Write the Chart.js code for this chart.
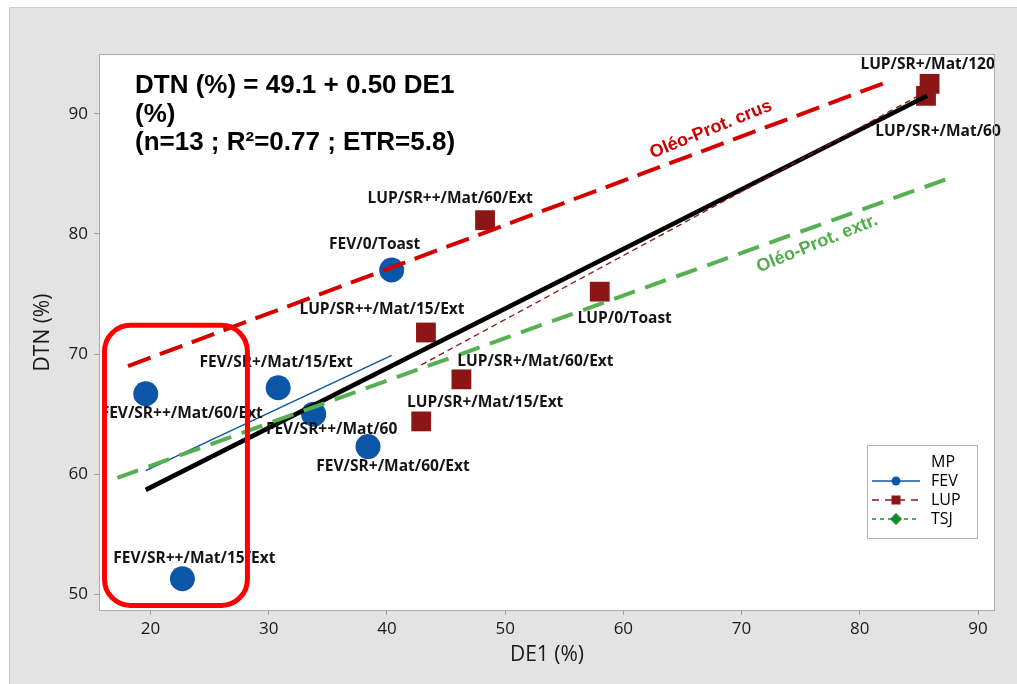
<!DOCTYPE html>
<html>
<head>
<meta charset="utf-8">
<script src="https://cdn.jsdelivr.net/npm/chart.js@4.4.1/dist/chart.umd.min.js"></script>
<style>
  html, body { margin: 0; padding: 0; background: #ffffff; }
  canvas { display: block; }
</style>
</head>
<body>
<canvas id="chart" width="1017" height="684"></canvas>
<script>
// ---- Measured samples: DE1 (%) vs DTN (%) ----
const fevNames = ['FEV/SR++/Mat/60/Ext', 'FEV/SR+/Mat/15/Ext', 'FEV/SR++/Mat/60', 'FEV/SR+/Mat/60/Ext', 'FEV/0/Toast', 'FEV/SR++/Mat/15/Ext'];
const fevDE1 = [19.6, 30.8, 33.8, 38.4, 40.4, 22.7];
const fevDTN = [66.7, 67.2, 65.0, 62.3, 77.0, 51.3];

const lupNames = ['LUP/SR+/Mat/120', 'LUP/SR+/Mat/60', 'LUP/SR++/Mat/60/Ext', 'LUP/0/Toast', 'LUP/SR++/Mat/15/Ext', 'LUP/SR+/Mat/60/Ext', 'LUP/SR+/Mat/15/Ext'];
const lupDE1 = [85.9, 85.6, 48.3, 58.0, 43.3, 46.3, 42.9];
const lupDTN = [92.5, 91.5, 81.15, 75.2, 71.8, 67.9, 64.4];

// ---- Fitted lines (end points) ----
const fitAllDE1 = [19.6, 85.7];
const fitAllDTN = [58.7, 91.5];
const fitFevDE1 = [19.6, 40.4];
const fitFevDTN = [60.3, 69.9];
const fitLupDE1 = [42.9, 85.9];
const fitLupDTN = [69.1, 92.0];
const crusDE1 = [18.1, 82.7];
const crusDTN = [69.0, 92.8];
const extrDE1 = [17.2, 87.7];
const extrDTN = [59.7, 84.7];

// ---- Axes ----
const xTicks = [20, 30, 40, 50, 60, 70, 80, 90];
const yTicks = [50, 60, 70, 80, 90];

// ---- Legend groups (MP) ----
const mpGroups = ['FEV', 'LUP', 'TSJ'];

// ---- Equation block ----
const equationLines = ['DTN (%) = 49.1 + 0.50 DE1', '(%)', '(n=13 ; R\u00b2=0.77 ; ETR=5.8)'];

// Pixel offsets of each point label from its marker (label centre)
const fevLabelOffsets = [[36, 20], [-2, -25], [18, 15], [25, 20], [-17, -25], [12, -20]];
const lupLabelOffsets = [[-2, -19], [12, 36], [-35, -22], [25, 27], [-44, -23], [74, -18], [64, -19]];

// Text placed along the reference lines (data position of the text centre)
const lineNotes = [
  { text: 'Ol\u00e9o-Prot. crus', x: 67.4, y: 88.7, color: '#cc0000' },
  { text: 'Ol\u00e9o-Prot. extr.', x: 76.4, y: 79.2, color: '#4fae4a' }
];

// Highlighted zone (data bounds)
const zone = { x1: 16.11, x2: 28.2, y1: 72.4, y2: 49.08 };

const pts = (xs, ys) => xs.map((x, i) => ({ x: x, y: ys[i] }));

const COLORS = {
  FEV: '#0b56a7',
  LUP: '#8c1616',
  TSJ: '#138a2c',
  crus: '#d40000',
  extr: '#55b050',
  all: '#000000'
};

const backgroundPlugin = {
  id: 'frameBackground',
  beforeDraw(chart) {
    const { ctx, chartArea: a, width, height } = chart;
    ctx.save();
    ctx.fillStyle = '#ffffff';
    ctx.fillRect(0, 0, width, height);
    ctx.fillStyle = '#e3e3e3';
    ctx.fillRect(9, 7, width - 9, height - 7);
    ctx.strokeStyle = '#cdcdcd';
    ctx.lineWidth = 1;
    ctx.beginPath();
    ctx.moveTo(9.5, height);
    ctx.lineTo(9.5, 7.5);
    ctx.lineTo(width, 7.5);
    ctx.stroke();
    ctx.fillStyle = '#ffffff';
    ctx.fillRect(a.left, a.top, a.right - a.left, a.bottom - a.top);
    ctx.restore();
  },
  afterDraw(chart) {
    const { ctx, chartArea: a } = chart;
    ctx.save();
    ctx.strokeStyle = '#a9a9a9';
    ctx.lineWidth = 1;
    ctx.strokeRect(a.left - 0.5, a.top - 0.5, a.right - a.left + 1, a.bottom - a.top + 1);
    ctx.restore();
  }
};

const labelsPlugin = {
  id: 'pointLabels',
  afterDatasetsDraw(chart) {
    const { ctx } = chart;
    ctx.save();
    ctx.font = 'bold 15.5px "Open Sans", sans-serif';
    ctx.fillStyle = '#141414';
    ctx.textAlign = 'center';
    ctx.textBaseline = 'middle';
    const put = (dsIndex, names, offsets) => {
      const meta = chart.getDatasetMeta(dsIndex);
      meta.data.forEach((el, i) => {
        ctx.fillText(names[i], el.x + offsets[i][0], el.y + offsets[i][1]);
      });
    };
    put(0, fevNames, fevLabelOffsets);
    put(1, lupNames, lupLabelOffsets);

    // Line notes, rotated along the reference lines
    const xs = chart.scales.x, ys = chart.scales.y;
    ctx.font = 'bold 18px "Liberation Sans", Arial, sans-serif';
    lineNotes.forEach(n => {
      ctx.save();
      ctx.translate(xs.getPixelForValue(n.x), ys.getPixelForValue(n.y));
      ctx.rotate(-22 * Math.PI / 180);
      ctx.fillStyle = n.color;
      ctx.fillText(n.text, 0, 0);
      ctx.restore();
    });

    // Equation block
    const a = chart.chartArea;
    ctx.font = 'bold 26px "Liberation Sans", Arial, sans-serif';
    ctx.fillStyle = '#000000';
    ctx.textAlign = 'left';
    ctx.textBaseline = 'alphabetic';
    equationLines.forEach((t, i) => {
      ctx.fillText(t, a.left + 35, a.top + 38 + i * 28.5);
    });

    // Highlighted zone
    const x1 = xs.getPixelForValue(zone.x1), x2 = xs.getPixelForValue(zone.x2);
    const y1 = ys.getPixelForValue(zone.y1), y2 = ys.getPixelForValue(zone.y2);
    ctx.strokeStyle = '#ff0000';
    ctx.lineWidth = 5;
    ctx.beginPath();
    ctx.roundRect(x1, y1, x2 - x1, y2 - y1, 26);
    ctx.stroke();

    ctx.restore();
  }
};

const legendPlugin = {
  id: 'mpLegend',
  afterDraw(chart) {
    const { ctx } = chart;
    const box = { x: 867, y: 445, w: 110, h: 93 };
    ctx.save();
    ctx.fillStyle = '#ffffff';
    ctx.fillRect(box.x, box.y, box.w, box.h);
    ctx.strokeStyle = '#b4b4b4';
    ctx.lineWidth = 1;
    ctx.strokeRect(box.x + 0.5, box.y + 0.5, box.w, box.h);
    ctx.font = '16px "Open Sans", sans-serif';
    ctx.fillStyle = '#000000';
    ctx.textBaseline = 'middle';
    ctx.textAlign = 'left';
    ctx.fillText('MP', 931, 462);
    const styles = {
      FEV: { color: COLORS.FEV, dash: [], shape: 'circle' },
      LUP: { color: COLORS.LUP, dash: [7, 6], shape: 'rect' },
      TSJ: { color: COLORS.TSJ, dash: [4, 4], shape: 'diamond' }
    };
    mpGroups.forEach((g, i) => {
      const y = 481 + i * 19;
      const s = styles[g];
      ctx.strokeStyle = s.color;
      ctx.fillStyle = s.color;
      ctx.lineWidth = 1.5;
      ctx.setLineDash(s.dash);
      ctx.beginPath();
      ctx.moveTo(872, y);
      ctx.lineTo(920, y);
      ctx.stroke();
      ctx.setLineDash([]);
      ctx.beginPath();
      if (s.shape === 'circle') {
        ctx.arc(896, y, 4.5, 0, Math.PI * 2);
      } else if (s.shape === 'rect') {
        ctx.rect(891.5, y - 4.5, 9, 9);
      } else {
        ctx.moveTo(896, y - 6);
        ctx.lineTo(902, y);
        ctx.lineTo(896, y + 6);
        ctx.lineTo(890, y);
        ctx.closePath();
      }
      ctx.fill();
      ctx.fillStyle = '#000000';
      ctx.fillText(g, 931, y);
    });
    ctx.restore();
  }
};

const lineDs = (label, xs, ys, color, width, dash) => ({
  label: label,
  data: pts(xs, ys),
  showLine: true,
  borderColor: color,
  backgroundColor: color,
  borderWidth: width,
  borderDash: dash,
  borderCapStyle: 'butt',
  pointRadius: 0,
  pointHoverRadius: 0,
  fill: false,
  order: 1
});

new Chart(document.getElementById('chart'), {
  type: 'scatter',
  data: {
    datasets: [
      {
        label: 'FEV',
        data: pts(fevDE1, fevDTN),
        pointStyle: 'circle',
        pointRadius: 12.5,
        pointBorderWidth: 0,
        backgroundColor: COLORS.FEV,
        borderColor: COLORS.FEV,
        order: 3
      },
      {
        label: 'LUP',
        data: pts(lupDE1, lupDTN),
        pointStyle: 'rect',
        pointRadius: 14,
        pointBorderWidth: 0,
        backgroundColor: COLORS.LUP,
        borderColor: COLORS.LUP,
        order: 3
      },
      {
        label: 'TSJ',
        data: [],
        pointStyle: 'rectRot',
        backgroundColor: COLORS.TSJ,
        borderColor: COLORS.TSJ,
        order: 3
      },
      lineDs('Oléo-Prot. crus', crusDE1, crusDTN, COLORS.crus, 4, [24, 10]),
      lineDs('Oléo-Prot. extr.', extrDE1, extrDTN, COLORS.extr, 4, [22, 11]),
      lineDs('LUP fit', fitLupDE1, fitLupDTN, COLORS.LUP, 1.3, [6, 4]),
      lineDs('FEV fit', fitFevDE1, fitFevDTN, COLORS.FEV, 1.5, []),
      lineDs('Ajustement global', fitAllDE1, fitAllDTN, COLORS.all, 4.5, [])
    ]
  },
  options: {
    responsive: false,
    devicePixelRatio: 1,
    animation: false,
    layout: { padding: { top: 55, right: 23, left: 0, bottom: 0 } },
    plugins: {
      legend: { display: false },
      tooltip: { enabled: false }
    },
    scales: {
      x: {
        type: 'linear',
        min: 15.73,
        max: 91.35,
        afterBuildTicks: s => { s.ticks = xTicks.map(v => ({ value: v })); },
        afterFit: s => { s.height = 74; },
        grid: { drawOnChartArea: false, drawTicks: true, tickLength: 5, color: '#a0a0a0' },
        border: { display: false },
        ticks: {
          color: '#1a1a1a',
          padding: 4,
          font: { family: '"Open Sans", sans-serif', size: 17 }
        },
        title: {
          display: true,
          text: 'DE1 (%)',
          color: '#1a1a1a',
          font: { family: '"Open Sans", sans-serif', size: 21 },
          padding: { top: 0, bottom: 16.4 }
        }
      },
      y: {
        type: 'linear',
        min: 48.7,
        max: 94.9,
        afterBuildTicks: s => { s.ticks = yTicks.map(v => ({ value: v })); },
        afterFit: s => { s.width = 100; },
        grid: { drawOnChartArea: false, drawTicks: true, tickLength: 6, color: '#a0a0a0' },
        border: { display: false },
        ticks: {
          color: '#1a1a1a',
          padding: 6,
          font: { family: '"Open Sans", sans-serif', size: 17 }
        },
        title: {
          display: true,
          text: 'DTN (%)',
          color: '#1a1a1a',
          font: { family: '"Open Sans", sans-serif', size: 21 },
          padding: { top: 30.4, bottom: 0 }
        }
      }
    }
  },
  plugins: [backgroundPlugin, labelsPlugin, legendPlugin]
});
</script>
</body>
</html>
